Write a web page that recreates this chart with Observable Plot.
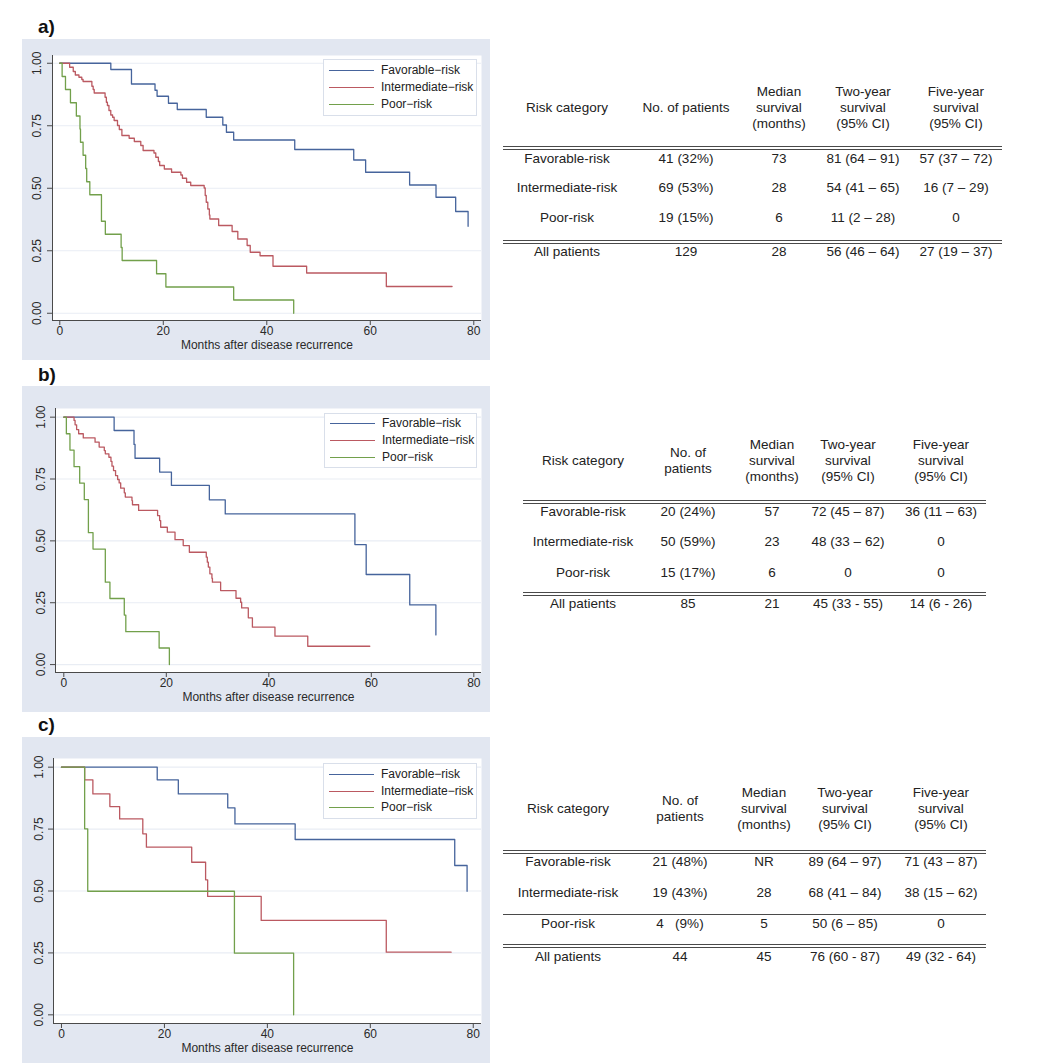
<!DOCTYPE html>
<html>
<head>
<meta charset="utf-8">
<script src="https://cdn.jsdelivr.net/npm/d3@7"></script>
<script src="https://cdn.jsdelivr.net/npm/@observablehq/plot@0.6"></script>
<style>
  html, body { margin: 0; padding: 0; background: #ffffff; }
  #root { position: relative; width: 1050px; height: 1063px; overflow: hidden;
          font-family: "Liberation Sans", Arial, Helvetica, sans-serif; color: #222; }
  .abs { position: absolute; }
  .lbl { position: absolute; font-weight: bold; font-size: 19px; line-height: 19px; color: #111; }
  .cell { position: absolute; text-align: center; white-space: pre; font-size: 13.5px; line-height: 16px; color: #222; }
  .legend { position: absolute; background: #ffffff; border: 1px solid #d9dfea; box-sizing: border-box; }
  .legtxt { position: absolute; font-size: 12px; line-height: 14px; color: #222; white-space: pre; }
</style>
</head>
<body>
<div id="root"></div>
<script>
// ---------------- DATA ----------------
const seriesNames = ["Favorable\u2212risk", "Intermediate\u2212risk", "Poor\u2212risk"];
const seriesColors = ["#46649c", "#bb5961", "#72a04b"];
const monthTicks = [0, 20, 40, 60, 80];
const survTicks = [0, 0.25, 0.5, 0.75, 1];
const xTitle = "Months after disease recurrence";
const panelLabels = ["a)", "b)", "c)"];

// Kaplan-Meier steps: [month, survival after drop]
const a_fav = [[9.86,0.975],[13.85,0.917],[18.4,0.892],[18.8,0.868],[21.0,0.84],[22.7,0.815],[28.3,0.784],[31.5,0.753],[32.2,0.724],[33.6,0.693],[45.4,0.655],[56.8,0.613],[59.1,0.564],[67.6,0.513],[72.7,0.464],[76.5,0.407],[78.9,0.348]];
const a_int = [[1.9,0.984],[2.6,0.967],[3.0,0.953],[3.7,0.944],[4.25,0.935],[4.5,0.927],[6.2,0.908],[6.45,0.895],[6.65,0.881],[8.75,0.864],[9.0,0.844],[9.2,0.831],[9.5,0.811],[9.85,0.793],[10.2,0.784],[10.5,0.771],[11.15,0.751],[11.5,0.735],[12.0,0.711],[13.4,0.7],[14.4,0.687],[15.65,0.671],[16.1,0.651],[18.2,0.641],[18.55,0.624],[19.05,0.607],[19.3,0.591],[20.2,0.577],[21.6,0.564],[23.4,0.553],[23.7,0.54],[24.5,0.524],[25.3,0.511],[27.9,0.501],[28.1,0.471],[28.3,0.444],[28.6,0.417],[28.9,0.393],[29.0,0.377],[30.7,0.351],[33.3,0.327],[34.4,0.297],[36.2,0.271],[36.8,0.244],[38.7,0.23],[41.2,0.188],[47.7,0.161],[63.1,0.107]];
const a_poor = [[0.45,0.947],[1.1,0.895],[2.06,0.842],[3.2,0.789],[3.9,0.737],[4.0,0.684],[4.5,0.632],[5.0,0.579],[5.2,0.526],[5.8,0.474],[8.05,0.368],[8.8,0.316],[11.85,0.263],[12.05,0.211],[18.7,0.158],[20.5,0.105],[33.6,0.053],[45.2,0]];
const a_ends = [78.9, 75.8, 45.2];

const b_fav = [[9.82,0.946],[13.7,0.89],[13.9,0.834],[18.7,0.778],[21.0,0.724],[28.4,0.666],[31.5,0.609],[56.8,0.485],[59.0,0.364],[67.5,0.241],[72.6,0.12]];
const b_int = [[2.0,0.987],[2.2,0.969],[2.5,0.95],[2.9,0.933],[3.8,0.916],[6.1,0.899],[6.9,0.879],[7.9,0.865],[8.1,0.852],[8.8,0.838],[9.2,0.821],[9.4,0.802],[9.7,0.784],[10.1,0.764],[10.5,0.748],[10.8,0.734],[11.1,0.713],[11.8,0.694],[12.0,0.677],[13.3,0.663],[13.4,0.646],[14.6,0.623],[18.3,0.602],[18.7,0.582],[18.9,0.555],[20.2,0.535],[21.7,0.505],[23.3,0.481],[24.5,0.454],[27.8,0.434],[28.0,0.414],[28.2,0.394],[28.5,0.367],[28.9,0.349],[29.0,0.333],[30.6,0.299],[33.6,0.268],[34.5,0.252],[34.7,0.229],[36.0,0.189],[36.8,0.151],[41.2,0.115],[47.6,0.074]];
const b_poor = [[0.5,0.933],[1.2,0.867],[2.0,0.8],[3.1,0.733],[4.0,0.667],[4.8,0.533],[5.7,0.467],[8.1,0.333],[9.0,0.267],[11.8,0.2],[12.1,0.133],[18.6,0.067],[20.6,0]];
const b_ends = [72.6, 59.7, 20.6];

const c_fav = [[18.6,0.949],[22.7,0.892],[32.3,0.836],[33.7,0.771],[45.4,0.708],[76.4,0.603],[78.8,0.499]];
const c_int = [[4.5,0.949],[6.1,0.892],[9.4,0.841],[11.3,0.791],[15.8,0.731],[16.5,0.677],[25.3,0.616],[28.0,0.545],[28.4,0.478],[38.8,0.381],[63.1,0.253]];
const c_poor = [[4.5,0.751],[5.1,0.499],[33.6,0.249],[45.1,0]];
const c_ends = [78.8, 75.7, 45.1];

// Tables
const headers_a = ["Risk category", "No. of patients", "Median\nsurvival\n(months)", "Two-year\nsurvival\n(95% CI)", "Five-year\nsurvival\n(95% CI)"];
const rows_a = [
  ["Favorable-risk", "41 (32%)", "73", "81 (64 \u2013 91)", "57 (37 \u2013 72)"],
  ["Intermediate-risk", "69 (53%)", "28", "54 (41 \u2013 65)", "16 (7 \u2013 29)"],
  ["Poor-risk", "19 (15%)", "6", "11 (2 \u2013 28)", "0"],
  ["All patients", "129", "28", "56 (46 \u2013 64)", "27 (19 \u2013 37)"]
];
const headers_b = ["Risk category", "No. of\npatients", "Median\nsurvival\n(months)", "Two-year\nsurvival\n(95% CI)", "Five-year\nsurvival\n(95% CI)"];
const rows_b = [
  ["Favorable-risk", "20 (24%)", "57", "72 (45 \u2013 87)", "36 (11 \u2013 63)"],
  ["Intermediate-risk", "50 (59%)", "23", "48 (33 \u2013 62)", "0"],
  ["Poor-risk", "15 (17%)", "6", "0", "0"],
  ["All patients", "85", "21", "45 (33 - 55)", "14 (6 - 26)"]
];
const headers_c = ["Risk category", "No. of\npatients", "Median\nsurvival\n(months)", "Two-year\nsurvival\n(95% CI)", "Five-year\nsurvival\n(95% CI)"];
const rows_c = [
  ["Favorable-risk", "21 (48%)", "NR", "89 (64 \u2013 97)", "71 (43 \u2013 87)"],
  ["Intermediate-risk", "19 (43%)", "28", "68 (41 \u2013 84)", "38 (15 \u2013 62)"],
  ["Poor-risk", "4   (9%)", "5", "50 (6 \u2013 85)", "0"],
  ["All patients", "44", "45", "76 (60 - 87)", "49 (32 - 64)"]
];

// ---------------- LAYOUT ----------------
const BG = "#e2e7f1";
const GRID = "#e9edf4";
const AXIS = "#4a4a4a";
const FONT = '"Liberation Sans", Arial, Helvetica, sans-serif';

const panels = [
  { label: panelLabels[0], labelTop: 17, box: [22, 39, 468, 321], m: [16, 9, 40, 30],
    xd: [-1.41, 81.49], yd: [-0.029, 1.031], ylabDx: -15, titleDy: 25,
    legend: [323, 59, 154, 57], legRows: [11, 28, 45],
    series: [a_fav, a_int, a_poor], ends: a_ends,
    table: { headers: headers_a, rows: rows_a, cols: [567, 686, 779, 863, 956], headerY: 108,
             rowsY: [159, 188, 218, 252], rules: [[148, 2], [242, 2]], x0: 503, x1: 1002 } },
  { label: panelLabels[1], labelTop: 365, box: [22, 386, 468, 326], m: [22, 9, 40, 33],
    xd: [-1.62, 81.5], yd: [-0.032, 1.035], ylabDx: -14, titleDy: 25,
    legend: [324, 413, 153, 55], legRows: [10, 27, 44],
    series: [b_fav, b_int, b_poor], ends: b_ends,
    table: { headers: headers_b, rows: rows_b, cols: [583, 688, 772, 848, 941], headerY: 461,
             rowsY: [512, 542, 573, 604], rules: [[502, 2], [594, 2]], x0: 523, x1: 986 } },
  { label: panelLabels[2], labelTop: 715, box: [22, 737, 468, 326], m: [21, 9, 40, 31],
    xd: [-1.55, 81.6], yd: [-0.035, 1.035], ylabDx: -14, titleDy: 25,
    legend: [323, 763, 154, 56], legRows: [11, 28, 44],
    series: [c_fav, c_int, c_poor], ends: c_ends,
    table: { headers: headers_c, rows: rows_c, cols: [568, 680, 764, 845, 941], headerY: 809,
             rowsY: [862, 893, 924, 957], rules: [[852, 2], [914, 1], [946, 2]], x0: 503, x1: 986 } }
];

const root = document.getElementById("root");

function el(cls, css, text) {
  const d = document.createElement("div");
  if (cls) d.className = cls;
  Object.assign(d.style, css);
  if (text != null) d.textContent = text;
  root.appendChild(d);
  return d;
}

function cellAt(text, cx, cy) {
  const n = text.split("\n").length;
  el("cell", { left: (cx - 120) + "px", width: "240px", top: (cy - n * 8) + "px" }, text);
}

function buildPanel(P) {
  const data = [];
  P.series.forEach((steps, i) => {
    const g = seriesNames[i];
    data.push({ g, t: 0, s: 1 });
    steps.forEach(([t, s]) => data.push({ g, t, s }));
    data.push({ g, t: P.ends[i], s: steps[steps.length - 1][1] });
  });

  const [left, top, w, h] = P.box;
  const [mt, mr, mb, ml] = P.m;
  const svg = Plot.plot({
    width: w, height: h,
    marginTop: mt, marginRight: mr, marginBottom: mb, marginLeft: ml,
    style: { background: BG, fontFamily: FONT, fontSize: "12px", color: AXIS, overflow: "visible" },
    x: { domain: P.xd },
    y: { domain: P.yd },
    color: { domain: seriesNames, range: seriesColors },
    marks: [
      Plot.frame({ fill: "white", stroke: "none" }),
      Plot.ruleY(survTicks, { stroke: GRID, strokeWidth: 1.2 }),
      Plot.line(data, { x: "t", y: "s", z: "g", stroke: "g", curve: "step-after", strokeWidth: 1.3 }),
      Plot.ruleX([P.xd[0]], { stroke: AXIS, strokeWidth: 1 }),
      Plot.ruleY([P.yd[0]], { stroke: AXIS, strokeWidth: 1 }),
      Plot.axisX({ ticks: monthTicks, tickSize: 5, tickPadding: 1, label: null, fill: "#2a2a2a", stroke: AXIS }),
      Plot.axisY({ ticks: survTicks, tickSize: 5, tickFormat: () => "", label: null, stroke: AXIS }),
      Plot.text(survTicks, { y: d => d, text: d => d.toFixed(2), frameAnchor: "left", dx: P.ylabDx,
                             rotate: -90, textAnchor: "middle", lineAnchor: "middle", fill: "#2a2a2a" }),
      Plot.text([xTitle], { frameAnchor: "bottom", text: d => d, dy: P.titleDy, lineAnchor: "middle", fill: "#2a2a2a" })
    ]
  });
  const holder = el("abs", { left: left + "px", top: top + "px", width: w + "px", height: h + "px" });
  holder.appendChild(svg);

  // panel label
  el("lbl", { left: "38px", top: P.labelTop + "px" }, P.label);

  // legend
  const [lx, ly, lw, lh] = P.legend;
  const lg = el("legend", { left: lx + "px", top: ly + "px", width: lw + "px", height: lh + "px" });
  seriesNames.forEach((name, i) => {
    const ln = document.createElement("div");
    Object.assign(ln.style, { position: "absolute", left: "5px", width: "45px", height: "1.3px",
      top: (P.legRows[i] - 1) + "px", background: seriesColors[i] });
    lg.appendChild(ln);
    const tx = document.createElement("div");
    tx.className = "legtxt";
    Object.assign(tx.style, { left: "57px", top: (P.legRows[i] - 8) + "px" });
    tx.textContent = name;
    lg.appendChild(tx);
  });

  // table
  const T = P.table;
  T.headers.forEach((hd, j) => cellAt(hd, T.cols[j], T.headerY));
  T.rows.forEach((row, r) => row.forEach((v, j) => cellAt(v, T.cols[j], T.rowsY[r])));
  T.rules.forEach(([y, n]) => {
    const ys = n === 2 ? [y - 2, y + 1] : [y];
    ys.forEach(yy => el("abs", { left: T.x0 + "px", width: (T.x1 - T.x0) + "px", top: yy + "px",
                                 height: "1.2px", background: "#4a4a4a" }));
  });
}

panels.forEach(buildPanel);
</script>
</body>
</html>
